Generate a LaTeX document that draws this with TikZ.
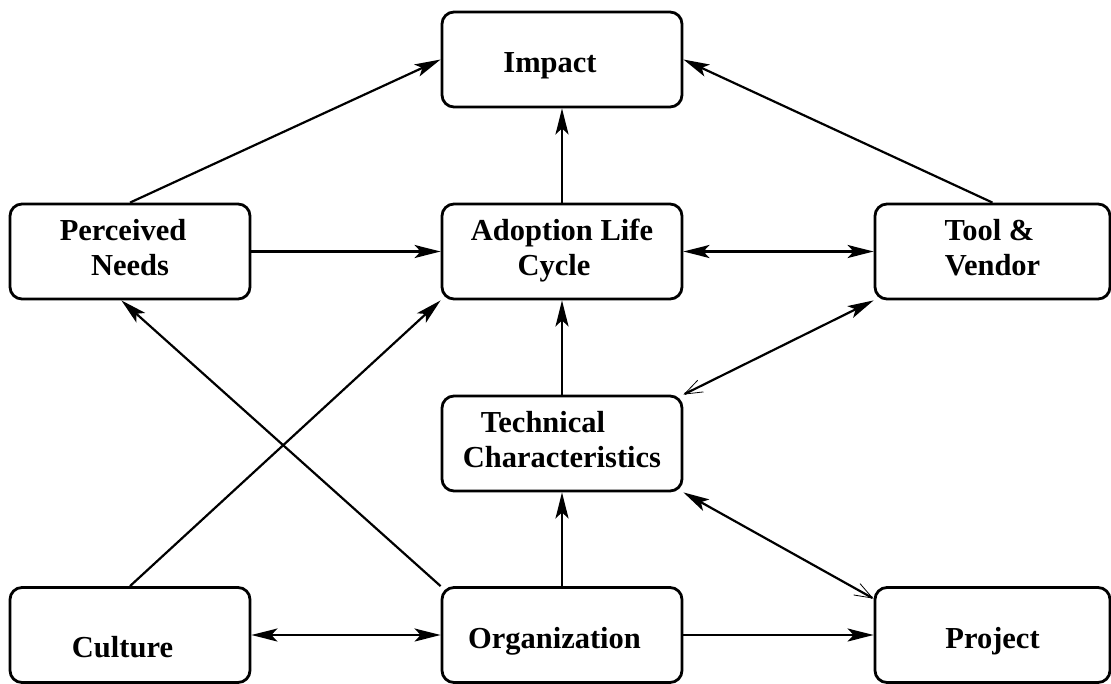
\documentclass[tikz,border=0pt]{standalone}
\usepackage{fontspec}
\setmainfont{Liberation Serif}
\usetikzlibrary{arrows.meta}
\tikzset{
  hd/.tip={Stealth[length=26pt,width=13pt,inset=6pt]},
  ohd/.tip={Straight Barb[length=18pt,width=13pt,line width=0.8pt]},
  box/.style={draw, line width=2.8pt, rounded corners=12pt, minimum width=240pt,
    minimum height=95pt, align=center, inner sep=0pt,
    font=\fontsize{30.5}{35}\selectfont\bfseries},
  oneline/.style={text height=#1, text depth=0pt},
  oneline/.default=26pt,
  twoline/.style={text height=57pt, text depth=10pt},
  link/.style={line width=2.2pt, -hd},
}

\begin{document}
\begin{tikzpicture}[x=1pt,y=-1pt]
        \useasboundingbox (0,0) rectangle (1111,683);
        \node[box, oneline] (IM) at (562,59.5) {Impact\kern24pt};
        \node[box, twoline] (PN) at (130,251.5) {Perceived\kern14pt\\Needs};
        \node[box, twoline] (AL) at (562,251.5) {Adoption Life\\Cycle\kern16pt};
        \node[box, twoline, minimum width=235pt] (TV) at (992.5,251.5) {Tool \&\kern6pt\\Vendor};
        \node[box, twoline] (TC) at (562,443.5) {Technical\kern38pt\\Characteristics};
        \node[box, oneline=44pt] (CU) at (130,635) {Culture\kern15pt};
        \node[box, oneline] (OR) at (562,635) {Organization\kern15pt};
        \node[box, oneline, minimum width=235pt] (PR) at (992.5,635) {Project};
        \foreach \a/\b in {PN.north/IM.west, TV.north/IM.east, AL.north/IM.south,
            PN.east/AL.west, TC.north/AL.south, OR.north/TC.south,
            OR.east/PR.west, OR.north west/PN.260, CU.north/AL.south west}{
          \draw[link] (\a) -- (\b);
        }
        \draw[link, hd-hd] (AL.east) -- (TV.west);
        \draw[link, hd-hd] (CU.east) -- (OR.west);
        \draw[link, ohd-hd] (TC.north east) -- (TV.south west);
        \draw[link, hd-ohd] (TC.south east) -- (PR.163);
      \end{tikzpicture}
\end{document}
